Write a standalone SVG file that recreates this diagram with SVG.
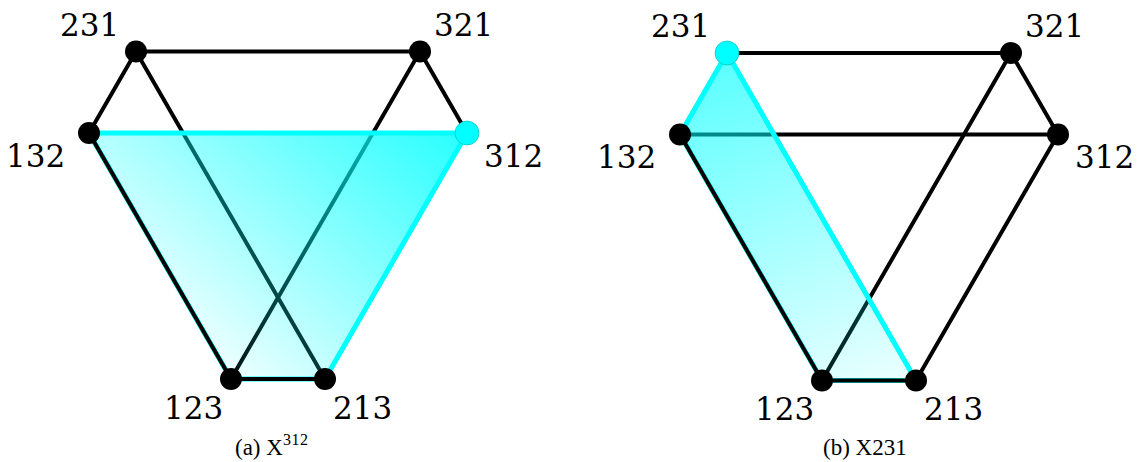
<svg xmlns="http://www.w3.org/2000/svg" width="1140" height="462" viewBox="0 0 1140 462">
  <style>
    .edge { stroke: #000; stroke-width: 4; stroke-linecap: round; fill: none; }
    .hl { stroke: #00ffff; stroke-width: 5; stroke-linejoin: round; stroke-linecap: round; }
    .node { fill: #000; }
    .node-hl { fill: #00ffff; stroke: #00b4b4; stroke-width: 0.6; }
    .lbl { font-family: "DejaVu Serif", "Liberation Serif", serif; font-size: 31px; fill: #000; }
    .cap { font-family: "Liberation Serif", "Times New Roman", serif; font-size: 23px; fill: #000; }
    .sup { font-size: 16px; letter-spacing: 0.5px; }
  </style>
  <defs>
    <linearGradient id="gA" gradientUnits="userSpaceOnUse" x1="467" y1="133" x2="240" y2="400">
      <stop offset="0" stop-color="#00ffff" stop-opacity="0.85"/>
      <stop offset="1" stop-color="#00ffff" stop-opacity="0.04"/>
    </linearGradient>
    <linearGradient id="gB" gradientUnits="userSpaceOnUse" x1="727" y1="53" x2="850" y2="400">
      <stop offset="0" stop-color="#00ffff" stop-opacity="0.65"/>
      <stop offset="1" stop-color="#00ffff" stop-opacity="0.08"/>
    </linearGradient>
  </defs>

  <!-- Panel (a) -->
  <g id="panel-a">
    <g id="connectors-a">
      <line class="edge" x1="136" y1="51.5" x2="420" y2="51.5"/>
      <line class="edge" x1="136" y1="51.5" x2="89" y2="133"/>
      <line class="edge" x1="420" y1="51.5" x2="467" y2="133"/>
      <line class="edge" x1="89" y1="133" x2="467" y2="133"/>
      <line class="edge" x1="136" y1="51.5" x2="325" y2="379"/>
      <line class="edge" x1="420" y1="51.5" x2="231" y2="379"/>
      <line class="edge" x1="89" y1="133" x2="231" y2="379"/>
      <line class="edge" x1="467" y1="133" x2="325" y2="379"/>
      <line class="edge" x1="231" y1="379" x2="325" y2="379"/>
      <polygon id="region-a" points="89,133 467,133 325,379 231,379" fill="url(#gA)" class="hl"/>
      <line class="edge" x1="89" y1="133" x2="231" y2="379"/>
      <line class="edge" x1="231" y1="379" x2="325" y2="379"/>
    </g>
    <g id="a-231"><circle class="node" cx="136" cy="51.5" r="11"/><text class="lbl" x="60" y="36">231</text></g>
    <g id="a-321"><circle class="node" cx="420" cy="51.5" r="11"/><text class="lbl" x="434" y="36">321</text></g>
    <g id="a-132"><circle class="node" cx="89" cy="133" r="11"/><text class="lbl" x="6" y="167">132</text></g>
    <g id="a-312"><circle class="node-hl" cx="467" cy="133" r="12"/><text class="lbl" x="484" y="167">312</text></g>
    <g id="a-123"><circle class="node" cx="231" cy="379" r="11"/><text class="lbl" x="164" y="419">123</text></g>
    <g id="a-213"><circle class="node" cx="325" cy="379" r="11"/><text class="lbl" x="333" y="419">213</text></g>
    <text id="caption-a" class="cap" x="235" y="455">(a) X<tspan class="sup" dy="-10">312</tspan></text>
  </g>

  <!-- Panel (b) -->
  <g id="panel-b">
    <g id="connectors-b">
      <line class="edge" x1="727" y1="53" x2="1011" y2="53"/>
      <line class="edge" x1="727" y1="53" x2="680" y2="134.5"/>
      <line class="edge" x1="1011" y1="53" x2="1058" y2="134.5"/>
      <line class="edge" x1="680" y1="134.5" x2="1058" y2="134.5"/>
      <line class="edge" x1="727" y1="53" x2="916" y2="380.5"/>
      <line class="edge" x1="1011" y1="53" x2="822" y2="380.5"/>
      <line class="edge" x1="680" y1="134.5" x2="822" y2="380.5"/>
      <line class="edge" x1="1058" y1="134.5" x2="916" y2="380.5"/>
      <line class="edge" x1="822" y1="380.5" x2="916" y2="380.5"/>
      <polygon id="region-b" points="727,53 680,134.5 822,380.5 916,380.5" fill="url(#gB)" class="hl"/>
      <line class="edge" x1="680" y1="134.5" x2="822" y2="380.5"/>
      <line class="edge" x1="822" y1="380.5" x2="916" y2="380.5"/>
    </g>
    <g id="b-231"><circle class="node-hl" cx="727" cy="53" r="12"/><text class="lbl" x="651" y="37">231</text></g>
    <g id="b-321"><circle class="node" cx="1011" cy="53" r="11"/><text class="lbl" x="1025" y="37">321</text></g>
    <g id="b-132"><circle class="node" cx="680" cy="134.5" r="11"/><text class="lbl" x="597" y="168">132</text></g>
    <g id="b-312"><circle class="node" cx="1058" cy="134.5" r="11"/><text class="lbl" x="1075" y="168">312</text></g>
    <g id="b-123"><circle class="node" cx="822" cy="380.5" r="11"/><text class="lbl" x="755" y="420">123</text></g>
    <g id="b-213"><circle class="node" cx="916" cy="380.5" r="11"/><text class="lbl" x="924" y="420">213</text></g>
    <text id="caption-b" class="cap" x="823" y="455">(b) X231</text>
  </g>
</svg>
